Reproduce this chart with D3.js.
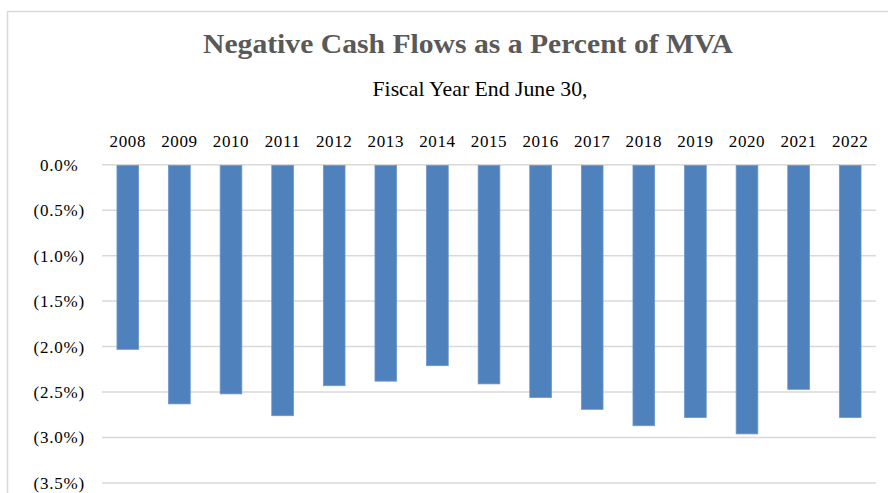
<!DOCTYPE html>
<html>
<head>
<meta charset="utf-8">
<script src="https://cdn.jsdelivr.net/npm/d3@7"></script>
<style>
  html, body { margin: 0; padding: 0; background: #fff; }
  svg { display: block; }
  text { font-family: "Liberation Serif", "Times New Roman", serif; }
</style>
</head>
<body>
<svg id="chart" width="888" height="493"></svg>
<script>
// Fiscal years shown across the top of the chart
const years = ["2008", "2009", "2010", "2011", "2012", "2013", "2014", "2015",
               "2016", "2017", "2018", "2019", "2020", "2021", "2022"];
// Negative cash flows as a percent of market value of assets (%)
const cashFlowPct = [-2.03, -2.63, -2.52, -2.76, -2.43, -2.38, -2.21, -2.41,
                     -2.56, -2.69, -2.87, -2.78, -2.96, -2.47, -2.78];
// Value-axis ticks (%)
const yTicks = [0, -0.5, -1.0, -1.5, -2.0, -2.5, -3.0, -3.5];

const titleText = "Negative Cash Flows as a Percent of MVA";
const subtitleText = "Fiscal Year End June 30,";

const svg = d3.select("#chart");

// Outer chart frame (extends beyond the visible canvas on the right and bottom)
svg.append("rect")
  .attr("x", 7.5).attr("y", 11.5)
  .attr("width", 920).attr("height", 520)
  .attr("fill", "#fff")
  .attr("stroke", "#d9d9d9")
  .attr("stroke-width", 1.5);

const plot = { left: 102, right: 876, top: 164.7, bottom: 483 };

const x = d3.scaleBand()
  .domain(years)
  .range([plot.left, plot.right])
  .paddingInner(0.58)
  .paddingOuter(0.29);

const y = d3.scaleLinear()
  .domain([-3.5, 0])
  .range([plot.bottom, plot.top]);

// Horizontal gridlines
svg.append("g")
  .selectAll("line")
  .data(yTicks)
  .join("line")
  .attr("x1", plot.left).attr("x2", plot.right)
  .attr("y1", d => y(d)).attr("y2", d => y(d))
  .attr("stroke", "#d9d9d9")
  .attr("stroke-width", 1.5);

// Bars hanging down from zero
svg.append("g")
  .selectAll("rect")
  .data(cashFlowPct)
  .join("rect")
  .attr("x", (d, i) => x(years[i]))
  .attr("width", x.bandwidth())
  .attr("y", d => y(0) + 0.8)
  .attr("height", d => y(d) - y(0) - 0.8)
  .attr("fill", "#4f81bd")
  .attr("stroke", "#6a96cc")
  .attr("stroke-width", 0.8);

// Year labels above the plot (category axis placed at the top)
const xAxis = d3.axisTop(x).tickSize(0).tickPadding(0);
const gx = svg.append("g")
  .attr("transform", "translate(0,147)")
  .call(xAxis);
gx.select(".domain").remove();
gx.selectAll("text")
  .attr("fill", "#000")
  .attr("dy", 0)
  .style("font-size", "17px")
  .style("letter-spacing", "0.6px")
  .style("font-family", "'Liberation Serif', 'Times New Roman', serif");

// Value-axis labels, accounting format with parentheses for negatives
const fmt = d => {
  const s = Math.abs(d).toFixed(1) + "%";
  return d < 0 ? "(" + s + ")" : s;
};
const yAxis = d3.axisLeft(y).tickValues(yTicks).tickFormat(fmt).tickSize(0).tickPadding(0);
const gy = svg.append("g")
  .attr("transform", "translate(85,0)")
  .call(yAxis);
gy.select(".domain").remove();
gy.selectAll("text")
  .attr("fill", "#000")
  .attr("x", d => d < 0 ? 0 : -6.5)
  .style("font-size", "17px")
  .style("letter-spacing", "0.8px")
  .style("font-family", "'Liberation Serif', 'Times New Roman', serif");

// Title and subtitle
svg.append("text")
  .attr("x", 468).attr("y", 53)
  .attr("text-anchor", "middle")
  .attr("fill", "#595959")
  .attr("font-weight", "bold")
  .attr("textLength", 530)
  .attr("lengthAdjust", "spacingAndGlyphs")
  .style("font-size", "27px")
  .text(titleText);

svg.append("text")
  .attr("x", 480).attr("y", 96)
  .attr("text-anchor", "middle")
  .attr("fill", "#000")
  .attr("textLength", 215)
  .attr("lengthAdjust", "spacingAndGlyphs")
  .style("font-size", "21px")
  .text(subtitleText);
</script>
</body>
</html>
